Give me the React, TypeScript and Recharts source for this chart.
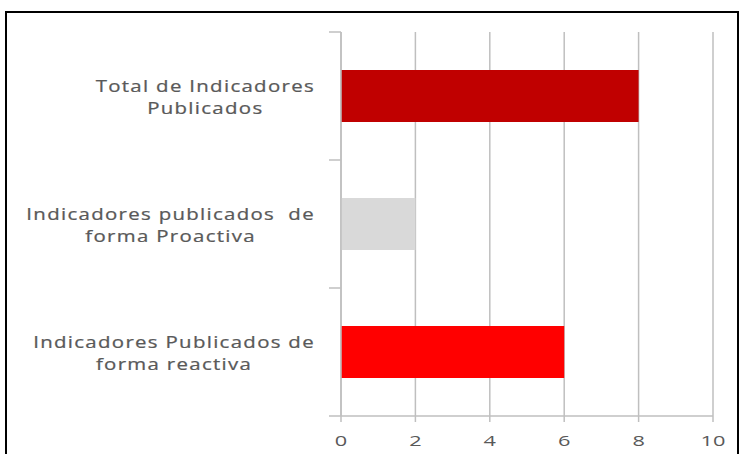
import { BarChart, Bar, XAxis, YAxis, CartesianGrid, Cell } from "recharts";

const categories = [
  "Total de Indicadores Publicados",
  "Indicadores publicados  de forma Proactiva",
  "Indicadores Publicados de forma reactiva",
];
const categoryLines = [
  ["Total de Indicadores", "Publicados"],
  ["Indicadores publicados  de", "forma Proactiva"],
  ["Indicadores Publicados de", "forma reactiva"],
];
const values = [8, 2, 6];
const barColors = ["#C00000", "#D9D9D9", "#FF0000"];
const xTicks = [0, 2, 4, 6, 8, 10];

const data = categories.map((name, i) => ({ name, value: values[i] }));

const FONT = "'Open Sans', sans-serif";
const TEXT = "#595959";
const LABEL_SIZE = 17;
const LABEL_SPACING = 1.1;
const STRETCH = 1.2;

let ctx: CanvasRenderingContext2D | null = null;
function textWidth(s: string) {
  if (!ctx) ctx = document.createElement("canvas").getContext("2d");
  if (!ctx) return s.length * 10;
  ctx.font = `${LABEL_SIZE}px 'Open Sans'`;
  return (ctx.measureText(s).width + s.length * LABEL_SPACING) * STRETCH;
}

function CategoryTick(props: any) {
  const { x, y, payload, index } = props;
  const lines = categoryLines[categories.indexOf(payload.value)] || [payload.value];
  const half = payload.offset || 64;
  const maxW = Math.max(...lines.map(textWidth));
  const cx = x - maxW / 2;
  const lineH = 22;
  const startY = y - ((lines.length - 1) * lineH) / 2;
  return (
    <g>
      <line x1={x + 14} x2={x + 26} y1={y - half} y2={y - half} stroke="#BFBFBF" strokeWidth={1.5} />
      {index === categories.length - 1 && (
        <line x1={x + 14} x2={x + 26} y1={y + half} y2={y + half} stroke="#BFBFBF" strokeWidth={1.5} />
      )}
      {lines.map((l, i) => (
        <g key={i} transform={`translate(${cx}, ${startY + i * lineH}) scale(${STRETCH}, 1)`}>
          <text
            x={0}
            y={0}
            textAnchor="middle"
            dominantBaseline="central"
            fill={TEXT}
            stroke={TEXT}
            strokeWidth={0.25}
            fontSize={LABEL_SIZE}
            fontFamily={FONT}
            letterSpacing={LABEL_SPACING}
            style={{ whiteSpace: "pre" }}
          >
            {l}
          </text>
        </g>
      ))}
    </g>
  );
}

function ValueTick(props: any) {
  const { x, y, payload } = props;
  return (
    <g transform={`translate(${x}, ${y}) scale(1.45, 1)`}>
      <text x={0} y={0} dy="0.71em" textAnchor="middle" fill={TEXT} fontSize={15} fontFamily={FONT}>
        {payload.value}
      </text>
    </g>
  );
}

export default function App() {
  return (
    <div style={{ position: "absolute", left: 0, top: 0, width: 745, height: 454, overflow: "hidden", background: "#fff" }}>
      <div
        style={{
          position: "absolute",
          left: 5,
          top: 11,
          width: 730,
          height: 480,
          border: "2px solid #000",
        }}
      />
      <div style={{ position: "absolute", left: 0, top: 0 }}>
        <BarChart
          width={745}
          height={454}
          data={data}
          layout="vertical"
          margin={{ top: 32, right: 32, bottom: 8, left: 11 }}
        >
          <CartesianGrid horizontal={false} stroke="#BFBFBF" strokeWidth={1.5} />
          <XAxis
            type="number"
            domain={[0, 10]}
            ticks={xTicks}
            height={30}
            axisLine={{ stroke: "#BFBFBF", strokeWidth: 1.5 }}
            tickLine={{ stroke: "#BFBFBF", strokeWidth: 1.5 }}
            tickSize={6}
            tickMargin={13}
            tick={<ValueTick />}
          />
          <YAxis
            type="category"
            dataKey="name"
            width={330}
            tickSize={0}
            tickMargin={26}
            axisLine={{ stroke: "#BFBFBF", strokeWidth: 1.5 }}
            tickLine={false}
            tick={<CategoryTick />}
            interval={0}
          />
          <Bar dataKey="value" barSize={52} isAnimationActive={false}>
            {data.map((d, i) => (
              <Cell key={d.name} fill={barColors[i]} />
            ))}
          </Bar>
        </BarChart>
      </div>
    </div>
  );
}
